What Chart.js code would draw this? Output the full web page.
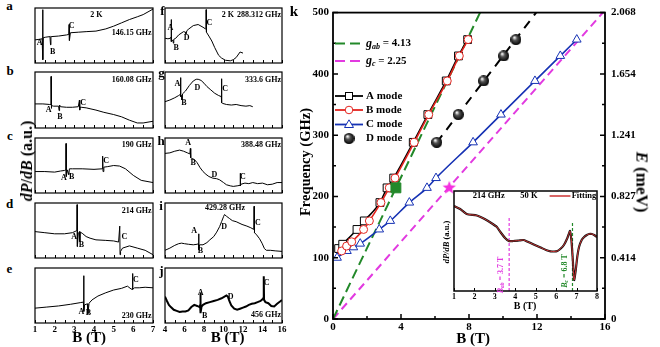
<!DOCTYPE html>
<html><head><meta charset="utf-8">
<script src="https://cdn.jsdelivr.net/npm/chart.js@4/dist/chart.umd.min.js"></script>
<style>
html,body{margin:0;padding:0;background:#fff;}
#wrap{position:relative;width:660px;height:347px;overflow:hidden;background:#fff;font-family:'Liberation Serif','Times New Roman',serif;}
canvas{position:absolute;}
.t{position:absolute;white-space:nowrap;font-weight:bold;color:#000;line-height:1;}
.c{transform:translate(-50%,-50%);}
.rl{transform:translate(-50%,-50%) rotate(-90deg);}
.rr{transform:translate(-50%,-50%) rotate(90deg);}
</style></head><body><div id="wrap"></div>
<script>
// ================= DATA =================
// ESR spectra, panels a-j : field B (T) and signal dP/dB (arbitrary units, 0-100)
const SPEC_A_B = [1.0,1.2,1.36,1.39,1.395,1.405,1.42,1.55,1.76,1.79,1.81,1.84,2.2,2.6,2.72,2.735,2.75,2.8,3.2,3.6,4.1,4.6,5.0,5.4,5.8,6.2,6.5,7.0];
const SPEC_A_Y = [42,43,44,45,97,6,46,47,48,33,49,48,49,51,52,70,41,55,56,57,58,62,67,73,79,84,88,98];
const SPEC_B_B = [1.0,1.4,1.75,1.81,1.815,1.825,1.85,1.95,2.2,2.225,2.25,2.3,2.6,2.9,3.2,3.26,3.275,3.29,3.35,3.6,4.1,4.5,5.0,5.4,5.8,6.2,6.5,7.0];
const SPEC_B_Y = [43,43,42,42,92,35,40,39,39,31,41,38,37,37,38,50,32,37,37,36,32,28,24,20,14,9,9,12];
const SPEC_C_B = [1.0,1.5,2.0,2.3,2.5,2.57,2.58,2.59,2.65,2.72,2.75,2.78,2.9,3.4,4.0,4.42,4.44,4.46,4.5,4.7,5.0,5.3,5.6,6.0,6.4,7.0];
const SPEC_C_Y = [39,39,38,40,41,42,90,30,42,33,44,44,44,44,43,44,67,39,47,48,50,49,44,32,23,19];
const SPEC_D_B = [1.0,1.5,2.0,2.5,2.9,3.08,3.13,3.14,3.155,3.2,3.26,3.28,3.30,3.4,3.6,3.8,4.1,4.6,5.0,5.25,5.31,5.325,5.35,5.45,5.8,6.2,6.6,7.0];
const SPEC_D_Y = [48,46,44,44,46,49,50,97,21,44,48,30,47,45,39,36,33,32,31,29,58,6,12,18,22,18,14,6];
const SPEC_E_B = [1.0,1.6,2.2,2.8,3.3,3.46,3.475,3.49,3.52,3.6,3.66,3.69,3.75,3.9,4.2,4.6,5.0,5.4,5.7,5.88,5.945,5.96,5.975,6.05,6.3,6.6,7.0];
const SPEC_E_Y = [27,29,31,34,37,38,86,21,33,34,35,17,36,42,49,55,60,63,67,62,61,90,61,64,64,65,64];
const SPEC_F_B = [4.0,4.3,4.55,4.62,4.64,4.66,4.8,4.86,4.9,5.1,5.4,5.9,6.1,6.15,6.25,6.45,6.9,7.4,7.9,8.15,8.2,8.22,8.25,8.5,8.8,9.1,9.5,9.8,10.2,10.7,11.0,11.3,11.7,12.0];
const SPEC_F_Y = [45,44,45,47,79,39,42,36,43,45,51,57,56,53,59,62,68,70,65,62,63,97,56,49,40,28,14,9,5,4,6,10,20,18];
const SPEC_G_B = [4.0,4.5,5.0,5.4,5.58,5.60,5.62,5.70,5.74,5.80,6.1,6.5,6.9,7.2,7.4,7.7,8.0,8.3,8.7,9.1,9.5,9.78,9.80,9.82,9.9,10.3,10.8,11.3,11.8,12.3,12.7,13.0];
const SPEC_G_Y = [47,50,54,58,60,90,56,58,50,61,66,76,84,87,87,85,80,74,68,62,58,56,88,45,44,42,41,42,40,39,40,38];
const SPEC_H_B = [4.0,4.5,5.0,5.5,5.9,6.3,6.55,6.60,6.62,6.66,6.72,7.0,7.3,7.6,7.9,8.2,8.5,8.9,9.3,9.6,10.0,10.3,10.7,11.0,11.4,11.70,11.72,11.74,11.8,12.2,12.6,13.0,13.5,14.0,14.5,15.0,15.5,16.0];
const SPEC_H_Y = [72,73,76,78,76,73,71,81,67,64,63,61,55,46,39,34,30,27,26,24,19,15,13,12,13,14,36,13,16,18,17,19,17,18,15,16,19,19];
const SPEC_I_B = [4.0,4.5,5.0,5.4,5.7,6.0,6.4,6.9,7.3,7.42,7.45,7.48,7.55,7.9,8.3,8.6,9.0,9.3,9.6,9.8,10.0,10.1,10.3,10.6,10.9,11.3,11.9,12.4,12.8,13.10,13.13,13.16,13.2,13.4,13.7,13.95,14.2,14.4,14.8,15.3,16.0];
const SPEC_I_Y = [14,18,23,26,27,26,25,24,25,26,44,15,24,24,28,33,39,47,57,66,75,79,76,72,68,66,61,58,55,52,94,48,46,42,35,27,17,14,14,13,12];
const SPEC_J_B = [4.0,4.2,4.4,4.6,4.9,5.2,5.5,5.8,6.1,6.4,6.7,7.0,7.3,7.55,7.60,7.63,7.66,7.75,7.9,8.2,8.6,9.0,9.4,9.8,10.1,10.3,10.45,10.6,10.8,11.1,11.4,11.7,12.0,12.3,12.6,12.9,13.2,13.5,13.8,14.05,14.10,14.13,14.16,14.3,14.6,14.9,15.2,15.5,15.8,16.0];
const SPEC_J_Y = [48,40,33,29,24,22,20,21,21,23,29,33,31,29,32,55,18,30,33,36,38,40,42,45,48,50,48,40,32,26,24,26,28,30,33,35,36,38,40,44,46,85,42,38,36,31,30,35,39,42];

// Panel k : resonance field B (T) vs frequency (GHz)
const MODE_A_B = [0.33,0.57,1.41,1.84,2.76,3.18,3.57,4.72,5.58,6.66,7.38,7.92];
const MODE_A_F = [115,122,146.15,160.08,190,214,230,288.3,333.6,388.5,429.3,456];
const MODE_B_B = [0.51,0.8,1.1,1.8,2.14,2.82,3.31,3.65,4.78,5.63,6.72,7.43,7.95];
const MODE_B_F = [111,119,126,146.15,160.08,190,214,230,288.3,333.6,388.5,429.3,456];
const MODE_C_B = [0.24,0.82,1.2,1.6,2.72,3.37,4.49,5.53,6.06,8.24,9.88,11.88,13.37,14.34];
const MODE_C_F = [100,111,117,123,146.15,160.08,190,214,230,288.3,333.6,388.5,429.3,456];
const MODE_D_B = [6.1,7.37,8.86,10.04,10.76];
const MODE_D_F = [288.3,333.6,388.5,429.3,456];
const D_FIT_B = [6.1,11.95];
const D_FIT_F = [288,500];
const G_AB_B = [0,8.65];          // g_ab = 4.13
const G_AB_F = [0,500];
const G_C_B = [0,16];             // g_c = 2.25
const G_C_F = [0,504];
const MARK_AB = [3.7,214];        // B_ab at 214 GHz
const MARK_C = [6.84,214];        // B_c at 214 GHz
const E_TICK_LABELS = ['0','0.414','0.827','1.241','1.654','2.068'];

// Inset : 214 GHz, 50 K spectrum and fit
const INSET_B = [1.0,1.3,1.62,2.12,2.5,2.86,3.1,3.27,3.5,3.68,3.9,4.17,4.4,4.58,4.9,5.24,5.5,5.73,5.9,6.06,6.2,6.38,6.55,6.68,6.75,6.82,6.88,6.96,7.04,7.12,7.25,7.37,7.5,7.61,7.75,7.86,8.0];
const INSET_Y = [85,82,77,75.5,72,67.5,64,59,53,50,50,50.5,51,49.5,46.5,43.5,41,39.7,39.5,40,42,46,53,60,50,30,11,21,35,44,51,54,56,57,57,56,54];
const INSET_FIT_Y = [85,82,77,75.5,72,67.5,64,59,53,50,50,50.5,51,49.5,46.5,43.5,41,39.7,39.5,40,42,46,53,60,50,30,11,21,35,44,51,54,56,57,57,56,54];
const INSET_BAB = [3.7,3.7], INSET_BAB_Y = [0,73];
const INSET_BC = [6.8,6.8], INSET_BC_Y = [0,68];

// ================= LAYOUT / DRAWING =================
const SERIF = "'Liberation Serif','Times New Roman',serif";
const wrap = document.getElementById('wrap');
function addCanvas(l,t,w,h){
  const c=document.createElement('canvas'); c.width=w; c.height=h;
  c.style.left=l+'px'; c.style.top=t+'px'; c.style.width=w+'px'; c.style.height=h+'px';
  wrap.appendChild(c); return c;
}
function addText(html,x,y,size,cls,extra){
  const d=document.createElement('div'); d.className='t '+(cls||'c');
  d.style.left=x+'px'; d.style.top=y+'px'; d.style.fontSize=size+'px';
  if(extra) Object.assign(d.style,extra);
  d.innerHTML=html; wrap.appendChild(d); return d;
}
const pts=(xs,ys)=>xs.map((x,i)=>({x,y:ys[i]}));
const baseOpts={responsive:false,animation:false,devicePixelRatio:1,events:[],
  plugins:{legend:{display:false},tooltip:{enabled:false}}};
const NOGRID={display:false,drawTicks:false,tickLength:0};

const LEFT={l:35,w:118,xmin:1,xmax:7,step:1,minor:0.5};
const RIGHT={l:165,w:117,xmin:4,xmax:16,step:2,minor:1};
const ROWS=[{t:8,h:55},{t:72,h:56},{t:138,h:55},{t:203,h:55},{t:268,h:55}];

const PANELS=[
 {col:LEFT,row:0,xs:SPEC_A_B,ys:SPEC_A_Y,texts:[['A',1.23,36],['B',1.9,21],['C',2.86,67],['2 K',4.12,88],['146.15 GHz',6.93,55,'right']]},
 {col:LEFT,row:1,xs:SPEC_B_B,ys:SPEC_B_Y,texts:[['A',1.69,32],['B',2.27,19],['C',3.45,44],['160.08 GHz',6.93,85,'right']]},
 {col:LEFT,row:2,xs:SPEC_C_B,ys:SPEC_C_Y,texts:[['A',2.47,27],['B',2.86,30],['C',4.62,58],['190 GHz',6.93,87,'right']]},
 {col:LEFT,row:3,xs:SPEC_D_B,ys:SPEC_D_Y,texts:[['A',2.99,38],['B',3.36,24],['C',5.54,39],['214 GHz',6.93,85,'right']]},
 {col:LEFT,row:4,xs:SPEC_E_B,ys:SPEC_E_Y,ticks:true,texts:[['A',3.36,21],['B',3.72,18],['C',6.13,79],['230 GHz',6.93,12,'right']]},
 {col:RIGHT,row:0,xs:SPEC_F_B,ys:SPEC_F_Y,texts:[['A',4.54,64],['B',5.14,27],['D',6.21,45],['C',8.56,73],['2 K',10.46,88],['288.312 GHz',15.9,88,'right']]},
 {col:RIGHT,row:1,xs:SPEC_G_B,ys:SPEC_G_Y,texts:[['A',5.27,78],['B',5.94,44],['D',7.32,72],['C',10.17,69],['333.6 GHz',15.9,85,'right']]},
 {col:RIGHT,row:2,xs:SPEC_H_B,ys:SPEC_H_Y,texts:[['A',6.38,91],['B',6.88,55],['D',9.06,33],['C',11.98,29],['388.48 GHz',15.9,87,'right']]},
 {col:RIGHT,row:3,xs:SPEC_I_B,ys:SPEC_I_Y,texts:[['A',6.98,50],['B',7.62,12],['D',10.07,56],['C',13.52,64],['429.28 GHz',10.15,91]]},
 {col:RIGHT,row:4,xs:SPEC_J_B,ys:SPEC_J_Y,ticks:true,lw:2,texts:[['A',7.65,55],['B',8.06,13],['D',10.74,47],['C',14.42,73],['456 GHz',15.9,14,'right']]}
];

function makePanel(p){
  const c=p.col, r=ROWS[p.row];
  const padL=8,padR=8,padT=4,padB=p.ticks?15:4;
  const cv=addCanvas(c.l-padL,r.t-padT,c.w+padL+padR,r.h+padT+padB);
  const deco={id:'deco',afterDatasetsDraw(ch){
    const {ctx,chartArea:a,scales:{x,y}}=ch; ctx.save();
    ctx.strokeStyle='#000'; ctx.lineWidth=1.2;
    ctx.strokeRect(a.left,a.top,a.right-a.left,a.bottom-a.top);
    ctx.beginPath(); ctx.lineWidth=1;
    for(let v=c.xmin;v<=c.xmax+1e-6;v+=c.minor){const px=Math.round(x.getPixelForValue(v))+0.5; ctx.moveTo(px,a.bottom); ctx.lineTo(px,a.bottom-3);}
    ctx.stroke();
    ctx.fillStyle='#000'; ctx.textBaseline='middle';
    for(const [t,bx,by,al] of p.texts){ctx.font='bold 8px '+SERIF; ctx.textAlign=al||'center'; ctx.fillText(t,x.getPixelForValue(bx),y.getPixelForValue(by));}
    ctx.restore();
  }};
  new Chart(cv,{type:'line',
    data:{datasets:[{data:pts(p.xs,p.ys),borderColor:'#000',borderWidth:p.lw||1,pointRadius:0,tension:0,fill:false}]},
    options:Object.assign({},baseOpts,{
      layout:{padding:{left:padL,right:padR,top:padT,bottom:0}},
      scales:{
        x:{type:'linear',min:c.xmin,max:c.xmax,grid:NOGRID,border:{display:false},
           ticks:{display:!!p.ticks,stepSize:c.step,autoSkip:false,maxRotation:0,padding:1,color:'#000',font:{family:SERIF,weight:'bold',size:9}},
           afterFit:s=>{s.height=padB;}},
        y:{display:false,min:0,max:100}
      }}),
    plugins:[deco]});
}
PANELS.forEach(makePanel);

// ---------- main panel k ----------
function sphereImg(r){
  const c=document.createElement('canvas'); c.width=c.height=2*r; const g=c.getContext('2d');
  const gr=g.createRadialGradient(r*0.7,r*0.6,r*0.1,r,r,r);
  gr.addColorStop(0,'#f4f4f4'); gr.addColorStop(0.35,'#555'); gr.addColorStop(1,'#000');
  g.fillStyle=gr; g.beginPath(); g.arc(r,r,r,0,Math.PI*2); g.fill(); return c;
}
function starImg(R,col){
  const c=document.createElement('canvas'); c.width=c.height=2*R+2; const g=c.getContext('2d');
  g.fillStyle=col; g.beginPath();
  for(let i=0;i<10;i++){const rr=i%2?R*0.42:R; const an=-Math.PI/2+i*Math.PI/5; g.lineTo(R+1+rr*Math.cos(an),R+1+rr*Math.sin(an));}
  g.closePath(); g.fill(); return c;
}
const SPHERE=sphereImg(5.5), STAR=starImg(7,'#f530e0');
const GREEN='#23892a', MAG='#e23ae0', BLUE='#1632b4', RED='#e3241f';

const OX=290;
const mainDeco={id:'mainDeco',afterDatasetsDraw(ch){
  const {ctx,chartArea:a,scales:{x,y}}=ch; ctx.save();
  ctx.strokeStyle='#000'; ctx.lineWidth=1.8;
  ctx.strokeRect(a.left,a.top,a.right-a.left,a.bottom-a.top);
  ctx.lineWidth=1.5; ctx.beginPath();
  for(let v=0;v<=500;v+=50){const py=y.getPixelForValue(v); const L=(v%100===0)?5:3;
    ctx.moveTo(a.left,py); ctx.lineTo(a.left+L,py); ctx.moveTo(a.right,py); ctx.lineTo(a.right-L,py);}
  for(let v=0;v<=16;v+=2){const px=x.getPixelForValue(v); const L=(v%4===0)?5:3; ctx.moveTo(px,a.bottom); ctx.lineTo(px,a.bottom-L);}
  ctx.stroke();
  // legend
  const lx0=335-OX, lx1=361-OX, mx=349-OX, tx=366-OX;
  ctx.textBaseline='middle'; ctx.textAlign='left'; ctx.fillStyle='#000';
  const rich=(parts,x0,y0)=>{let xx=x0; for(const [s,f,dy] of parts){ctx.font=f; ctx.fillText(s,xx,y0+(dy||0)); xx+=ctx.measureText(s).width;}};
  const dashRow=(col,yy)=>{ctx.save(); ctx.strokeStyle=col; ctx.lineWidth=2; ctx.setLineDash([10,5]); ctx.beginPath(); ctx.moveTo(lx0,yy); ctx.lineTo(lx1,yy); ctx.stroke(); ctx.restore();};
  dashRow(GREEN,43.5);
  rich([['g','italic bold 12px '+SERIF],['ab','italic bold 8px '+SERIF,3],[' = 4.13','bold 11px '+SERIF]],tx,43.5);
  dashRow(MAG,61);
  rich([['g','italic bold 12px '+SERIF],['c','italic bold 8px '+SERIF,3],[' = 2.25','bold 11px '+SERIF]],tx,61);
  const lineRow=(col,yy)=>{ctx.save(); ctx.strokeStyle=col; ctx.lineWidth=1.8; ctx.beginPath(); ctx.moveTo(lx0,yy); ctx.lineTo(lx1+2,yy); ctx.stroke(); ctx.restore();};
  ctx.font='bold 11px '+SERIF;
  lineRow('#000',96); ctx.save(); ctx.fillStyle='#fff'; ctx.strokeStyle='#000'; ctx.lineWidth=1; ctx.fillRect(mx-3.5,92.5,7,7); ctx.strokeRect(mx-3.5,92.5,7,7); ctx.restore();
  ctx.fillText('A mode',tx,96);
  lineRow(RED,110); ctx.save(); ctx.fillStyle='#fff'; ctx.strokeStyle=RED; ctx.lineWidth=1; ctx.beginPath(); ctx.arc(mx,110,3.8,0,Math.PI*2); ctx.fill(); ctx.stroke(); ctx.restore();
  ctx.fillText('B mode',tx,110);
  lineRow(BLUE,124.5); ctx.save(); ctx.fillStyle='#fff'; ctx.strokeStyle=BLUE; ctx.lineWidth=1; ctx.beginPath(); ctx.moveTo(mx,119.8); ctx.lineTo(mx+4.5,127.5); ctx.lineTo(mx-4.5,127.5); ctx.closePath(); ctx.fill(); ctx.stroke(); ctx.restore();
  ctx.fillText('C mode',tx,124.5);
  ctx.drawImage(SPHERE,mx-5.5,138.5-5.5);
  ctx.fillText('D mode',tx,138.5);
  ctx.restore();
}};

const mainCv=addCanvas(OX,0,660-OX,347);
new Chart(mainCv,{type:'line',
  data:{datasets:[
    {data:pts([MARK_AB[0]],[MARK_AB[1]]),showLine:false,pointStyle:'rect',pointRadius:7,pointBackgroundColor:GREEN,pointBorderColor:GREEN,order:1},
    {data:pts([MARK_C[0]],[MARK_C[1]]),showLine:false,pointStyle:STAR,pointRadius:7,order:1},
    {data:pts(MODE_D_B,MODE_D_F),showLine:false,pointStyle:SPHERE,pointRadius:5.5,order:2},
    {data:pts(MODE_B_B,MODE_B_F),borderColor:RED,borderWidth:1.6,pointStyle:'circle',pointRadius:4,pointBackgroundColor:'#fff',pointBorderColor:RED,pointBorderWidth:1,cubicInterpolationMode:'monotone',order:3},
    {data:pts(MODE_A_B,MODE_A_F),borderColor:'#000',borderWidth:1.6,pointStyle:'rect',pointRadius:5.5,pointBackgroundColor:'#fff',pointBorderColor:'#000',pointBorderWidth:1,cubicInterpolationMode:'monotone',order:4},
    {data:pts(MODE_C_B,MODE_C_F),borderColor:BLUE,borderWidth:1.6,pointStyle:'triangle',pointRadius:5,pointBackgroundColor:'#fff',pointBorderColor:BLUE,pointBorderWidth:1,cubicInterpolationMode:'monotone',order:5},
    {data:pts(D_FIT_B,D_FIT_F),borderColor:'#000',borderWidth:2,borderDash:[9,7],pointRadius:0,order:8},
    {data:pts(G_AB_B,G_AB_F),borderColor:GREEN,borderWidth:2,borderDash:[10,5],pointRadius:0,order:9},
    {data:pts(G_C_B,G_C_F),borderColor:MAG,borderWidth:2,borderDash:[8,5],pointRadius:0,order:9}
  ]},
  options:Object.assign({},baseOpts,{
    layout:{padding:{left:0,right:0,top:10,bottom:0}},
    scales:{
      x:{type:'linear',min:0,max:16,grid:NOGRID,border:{display:false},
         ticks:{stepSize:4,padding:2,color:'#000',maxRotation:0,font:{family:SERIF,weight:'bold',size:11}},
         afterFit:s=>{s.height=28;}},
      y:{position:'left',min:0,max:500,grid:NOGRID,border:{display:false},
         ticks:{stepSize:100,padding:4,color:'#000',font:{family:SERIF,weight:'bold',size:11}},
         afterFit:s=>{s.width=43;}},
      y2:{position:'right',min:0,max:500,grid:NOGRID,border:{display:false},
         ticks:{stepSize:100,padding:6,color:'#000',font:{family:SERIF,weight:'bold',size:11},callback:v=>E_TICK_LABELS[Math.round(v/100)]},
         afterFit:s=>{s.width=55;}}
    }}),
  plugins:[mainDeco]});

// ---------- inset ----------
const IOX=440, IOY=186;
const insetDeco={id:'insetDeco',
  beforeDatasetsDraw(ch){const {ctx,chartArea:a}=ch; ctx.save(); ctx.fillStyle='#fff'; ctx.fillRect(a.left,a.top,a.right-a.left,a.bottom-a.top); ctx.restore();},
  afterDatasetsDraw(ch){
    const {ctx,chartArea:a,scales:{x,y}}=ch; ctx.save();
    ctx.strokeStyle='#000'; ctx.lineWidth=1.5; ctx.strokeRect(a.left,a.top,a.right-a.left,a.bottom-a.top);
    ctx.lineWidth=1; ctx.beginPath();
    for(let v=1;v<=8;v++){const px=Math.round(x.getPixelForValue(v))+0.5; ctx.moveTo(px,a.bottom); ctx.lineTo(px,a.bottom-3);}
    ctx.stroke();
    ctx.fillStyle='#000'; ctx.textBaseline='middle'; ctx.textAlign='center';
    ctx.font='bold 8.5px '+SERIF;
    ctx.fillText('214 GHz',x.getPixelForValue(2.7),y.getPixelForValue(95));
    ctx.fillText('50 K',x.getPixelForValue(4.67),y.getPixelForValue(95));
    ctx.textAlign='left'; ctx.fillText('Fitting',x.getPixelForValue(6.76),y.getPixelForValue(95));
    ctx.strokeStyle='#cc3333'; ctx.lineWidth=1.5; ctx.beginPath();
    ctx.moveTo(x.getPixelForValue(5.68),y.getPixelForValue(95)); ctx.lineTo(x.getPixelForValue(6.7),y.getPixelForValue(95)); ctx.stroke();
    const rot=(parts,cx,cy,col)=>{ctx.save(); ctx.translate(cx,cy); ctx.rotate(-Math.PI/2); ctx.fillStyle=col; ctx.textAlign='left';
      let w=0; for(const [s,f] of parts){ctx.font=f; w+=ctx.measureText(s).width;}
      let xx=-w/2; for(const [s,f,dy] of parts){ctx.font=f; ctx.fillText(s,xx,dy||0); xx+=ctx.measureText(s).width;} ctx.restore();};
    rot([['B','italic bold 8px '+SERIF],['ab','italic bold 5.5px '+SERIF,2],[' = 3.7 T','bold 8px '+SERIF]],x.getPixelForValue(3.3),y.getPixelForValue(16),MAG);
    rot([['B','italic bold 8px '+SERIF],['c','italic bold 5.5px '+SERIF,2],[' = 6.8 T','bold 8px '+SERIF]],x.getPixelForValue(6.42),y.getPixelForValue(20),GREEN);
    rot([['dP/dB','italic bold 8.5px '+SERIF],[' (a.u.)','bold 8.5px '+SERIF]],447-IOX,242-IOY,'#000');
    ctx.fillStyle='#000'; ctx.textAlign='center'; ctx.font='bold 10px '+SERIF;
    ctx.fillText('B (T)',525-IOX,306.5-IOY);
    ctx.restore();
  }};
const insetCv=addCanvas(IOX,IOY,162,128);
new Chart(insetCv,{type:'line',
  data:{datasets:[
    {data:pts(INSET_B,INSET_FIT_Y),borderColor:'#cc3333',borderWidth:1,pointRadius:0,tension:0.2,order:1},
    {data:pts(INSET_B,INSET_Y),borderColor:'#111',borderWidth:2.2,pointRadius:0,tension:0.2,order:2},
    {data:pts(INSET_BAB,INSET_BAB_Y),borderColor:MAG,borderWidth:1.2,borderDash:[3,2],pointRadius:0,order:3},
    {data:pts(INSET_BC,INSET_BC_Y),borderColor:GREEN,borderWidth:1.2,borderDash:[3,2],pointRadius:0,order:3}
  ]},
  options:Object.assign({},baseOpts,{
    layout:{padding:{left:14,right:5,top:5,bottom:0}},
    scales:{
      x:{type:'linear',min:1,max:8,grid:NOGRID,border:{display:false},
         ticks:{stepSize:1,padding:1,color:'#000',maxRotation:0,font:{family:SERIF,weight:'bold',size:8}},
         afterFit:s=>{s.height=23;}},
      y:{display:false,min:0,max:100}
    }}),
  plugins:[insetDeco]});

// ---------- HTML labels ----------
[['a',9.5,5],['b',10,70],['c',10,135],['d',9.5,203],['e',9.5,268],
 ['f',162.5,10],['g',161.5,72],['h',161,140],['i',161,205],['j',161.5,270],['k',294,11]]
 .forEach(([s,x,y])=>addText(s,x,y,s==='k'?15:13));
addText('<i>dP</i>/<i>dB</i> (a.u.)',27,161,16,'rl');
addText('B (T)',89,337,15);
addText('B (T)',227.5,337,15);
addText('B (T)',473,338,15);
addText('Frequency (GHz)',305,162,14.5,'rl');
addText('<i>E</i> (meV)',642,182,17,'rr');
</script></body></html>
